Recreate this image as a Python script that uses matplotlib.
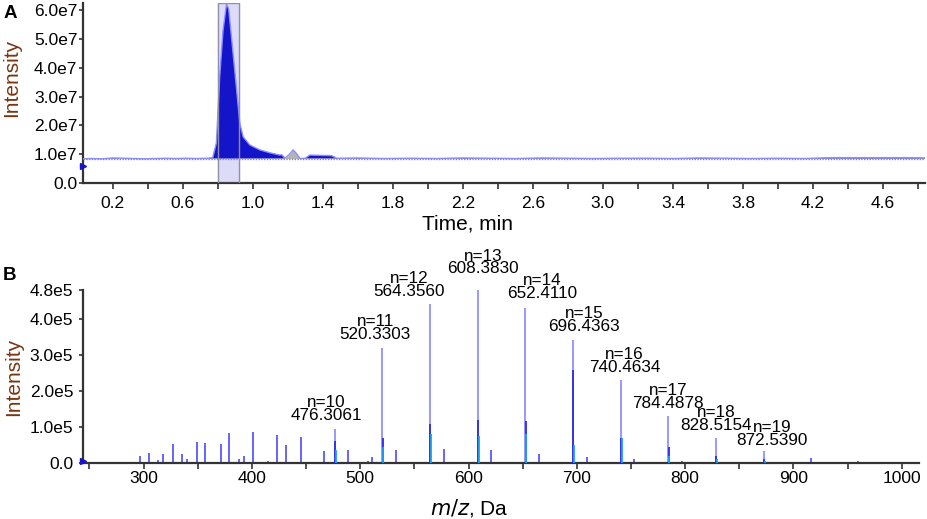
import numpy as np
import matplotlib
matplotlib.use('Agg')
import matplotlib.pyplot as plt
from matplotlib.ticker import FixedLocator, FuncFormatter

plt.rcParams['font.family'] = ['Liberation Sans', 'DejaVu Sans']

# ---- panel A: total ion chromatogram (time in min, intensity) ----
tic_time = [0.03, 0.08, 0.14, 0.20, 0.26, 0.32, 0.38, 0.44, 0.50, 0.56, 0.62, 0.68,
            0.74, 0.771, 0.792, 0.811, 0.830, 0.850, 0.862, 0.878, 0.906, 0.926,
            0.945, 0.983, 1.040, 1.097, 1.154, 1.166, 1.183, 1.210, 1.230, 1.250,
            1.269, 1.300, 1.326, 1.380, 1.450, 1.480, 1.60, 1.75, 1.90, 2.05, 2.20,
            2.35, 2.50, 2.65, 2.80, 2.95, 3.10, 3.25, 3.40, 3.55, 3.70, 3.85,
            4.00, 4.15, 4.30, 4.45, 4.60, 4.75, 4.84]
tic_int = [0.84e7, 0.85e7, 0.84e7, 0.87e7, 0.86e7, 0.85e7, 0.84e7, 0.85e7, 0.86e7,
           0.85e7, 0.86e7, 0.85e7, 0.86e7, 0.88e7, 1.39e7, 3.69e7, 5.30e7, 6.22e7,
           6.05e7, 5.08e7, 3.34e7, 2.07e7, 1.60e7, 1.32e7, 1.15e7, 1.05e7, 0.97e7,
           0.98e7, 0.86e7, 1.00e7, 1.15e7, 1.02e7, 0.85e7, 0.86e7, 0.97e7, 0.96e7,
           0.95e7, 0.86e7, 0.87e7, 0.85e7, 0.86e7, 0.85e7, 0.87e7, 0.86e7, 0.85e7,
           0.87e7, 0.86e7, 0.85e7, 0.86e7, 0.86e7, 0.85e7, 0.87e7, 0.86e7, 0.85e7,
           0.86e7, 0.85e7, 0.88e7, 0.88e7, 0.88e7, 0.88e7, 0.87e7]
tic_baseline = 0.85e7
gray_window = (1.183, 1.269)
select_window = (0.80, 0.92)

# ---- panel B: mass spectrum ----
peak_n = [10, 11, 12, 13, 14, 15, 16, 17, 18, 19]
peak_mz = [476.3061, 520.3303, 564.3560, 608.3830, 652.4110,
           696.4363, 740.4634, 784.4878, 828.5154, 872.5390]
peak_int = [0.955e5, 3.20e5, 4.41e5, 4.79e5, 4.31e5, 3.40e5, 2.29e5, 1.30e5, 0.68e5, 0.33e5]
peak_dark = [0.60e5, 0.68e5, 1.09e5, 1.18e5, 1.16e5, 2.59e5, 0.68e5, 0.45e5, 0.20e5, 0.10e5]
peak_cyan = [0.35e5, 0.45e5, 0.80e5, 0.75e5, 0.80e5, 0.50e5, 0.70e5, 0.20e5, 0.10e5, 0.05e5]
label_dx = [-6, -5, -15, 4, 12, 8, 3, 0, 0, 6]   # label nudges, points
label_dy = [4, 4, 4, 10, 5, 5, 4, 4, 4, 2]

minor_mz = [275, 297, 305, 313, 318, 327, 335, 340, 349, 357, 371, 379, 388, 393,
            401, 415, 423, 431, 445, 467, 489, 507, 511, 533, 577, 621, 665, 709,
            753, 797, 916, 960]
minor_int = [0.01e5, 0.20e5, 0.28e5, 0.08e5, 0.24e5, 0.54e5, 0.26e5, 0.10e5, 0.58e5,
             0.55e5, 0.52e5, 0.82e5, 0.10e5, 0.20e5, 0.87e5, 0.05e5, 0.78e5, 0.50e5,
             0.72e5, 0.34e5, 0.35e5, 0.05e5, 0.18e5, 0.35e5, 0.38e5, 0.35e5, 0.25e5,
             0.18e5, 0.10e5, 0.05e5, 0.14e5, 0.05e5]

spine_col = '#333333'
ylab_col = '#7a3510'

fig = plt.figure(figsize=(9.27, 5.19), dpi=100)
axA = fig.add_axes([83 / 927, 1 - 183 / 519, 842 / 927, 180 / 519])
axB = fig.add_axes([83 / 927, 1 - 463 / 519, 836 / 927, 173 / 519])

for ax in (axA, axB):
    ax.spines['top'].set_visible(False)
    ax.spines['right'].set_visible(False)
    for s in ('left', 'bottom'):
        ax.spines[s].set_color(spine_col)
        ax.spines[s].set_linewidth(1.6)
    ax.tick_params(colors='black', labelsize=12.5, width=1.2, color=spine_col)

# ---- A ----
t = np.array(tic_time)
y = np.array(tic_int)
axA.set_xlim(0.03, 4.84)
axA.set_ylim(0, 6.25e7)
axA.axvspan(select_window[0], select_window[1], color='#dcdcf8', zorder=0)
blue_mask = (y > tic_baseline) & ~((t > gray_window[0]) & (t < gray_window[1]))
axA.fill_between(t, tic_baseline, y, where=blue_mask, interpolate=True,
                 color='#1414c8', lw=0, zorder=2)
gray_mask = (t >= gray_window[0]) & (t <= gray_window[1])
axA.fill_between(t, tic_baseline, y, where=gray_mask, color='#b4b4b4', lw=0, zorder=2)
axA.plot(t, y, color='#8c8cff', lw=1.0, zorder=3)
axA.axhline(tic_baseline, color='#8a8a8a', lw=1.0, ls=(0, (1, 1)), zorder=3)
axA.axvspan(select_window[0], select_window[1], facecolor='none',
            edgecolor='#9090a8', lw=1.0, zorder=4)
axA.plot([0.03], [0.6e7], marker='>', color='#1414c8', ms=4, clip_on=False, zorder=5)

xt = np.round(np.arange(0.2, 4.81, 0.2), 1)
axA.xaxis.set_major_locator(FixedLocator(xt))
axA.xaxis.set_major_formatter(FuncFormatter(
    lambda v, p: f'{v:.1f}' if int(round(v * 10)) % 4 == 2 else ''))
axA.tick_params(axis='x', length=4, pad=5)
axA.yaxis.set_major_locator(FixedLocator([0, 1e7, 2e7, 3e7, 4e7, 5e7, 6e7]))
axA.yaxis.set_major_formatter(FuncFormatter(
    lambda v, p: '0.0' if v == 0 else f'{v / 1e7:.1f}e7'))
axA.tick_params(axis='y', length=3, pad=1)

# ---- B ----
axB.set_xlim(244, 1016)
axB.set_ylim(0, 4.8e5)
axB.vlines(minor_mz, 0, minor_int, color='#4a4aff', lw=1.2, zorder=2)
axB.vlines(peak_mz, 0, peak_int, color='#8888ff', lw=1.2, zorder=2)
axB.vlines(np.array(peak_mz) + 0.4, 0, peak_dark, color='#2a2af0', lw=1.3, zorder=3)
axB.vlines(np.array(peak_mz) + 1.0, 0, peak_cyan, color='#1ea0f0', lw=1.3, zorder=4)
axB.axhline(0, color='#2020c0', lw=1.0, zorder=1)
axB.plot([244], [0.05e5], marker='>', color='#1414c8', ms=4, clip_on=False, zorder=5)

for n, mz, h, dx, dy in zip(peak_n, peak_mz, peak_int, label_dx, label_dy):
    axB.annotate(f'n={n}\n{mz:.4f}', xy=(mz, h), xytext=(dx, dy),
                 textcoords='offset points', ha='center', va='bottom',
                 fontsize=12.3, linespacing=0.82, annotation_clip=False)

axB.xaxis.set_major_locator(FixedLocator([300, 400, 500, 600, 700, 800, 900, 1000]))
axB.xaxis.set_minor_locator(FixedLocator([250, 350, 450, 550, 650, 750, 850, 950]))
axB.tick_params(axis='x', which='both', length=4, pad=2)
axB.tick_params(axis='x', which='minor', width=1.2, color=spine_col)
axB.yaxis.set_major_locator(FixedLocator([0, 1e5, 2e5, 3e5, 4e5, 4.8e5]))
axB.yaxis.set_major_formatter(FuncFormatter(
    lambda v, p: '0.0' if v == 0 else f'{v / 1e5:.1f}e5'))
axB.tick_params(axis='y', length=3, pad=4)

# ---- labels ----
fig.text(468 / 927, 1 - 224 / 519, 'Time, min', ha='center', va='center', fontsize=15)
fig.text(469 / 927, 1 - 508 / 519, r'$\it{m/z}$, Da', ha='center', va='center', fontsize=15)
fig.text(12 / 927, 1 - 78 / 519, 'Intensity', rotation=90, ha='center', va='center',
         fontsize=15, color=ylab_col)
fig.text(14 / 927, 1 - 377 / 519, 'Intensity', rotation=90, ha='center', va='center',
         fontsize=15, color=ylab_col)
fig.text(10 / 927, 1 - 13 / 519, 'A', ha='center', va='center', fontsize=13.5,
         fontweight='bold')
fig.text(9 / 927, 1 - 276 / 519, 'B', ha='center', va='center', fontsize=13.5,
         fontweight='bold')

fig.savefig('out.png', dpi=100)
